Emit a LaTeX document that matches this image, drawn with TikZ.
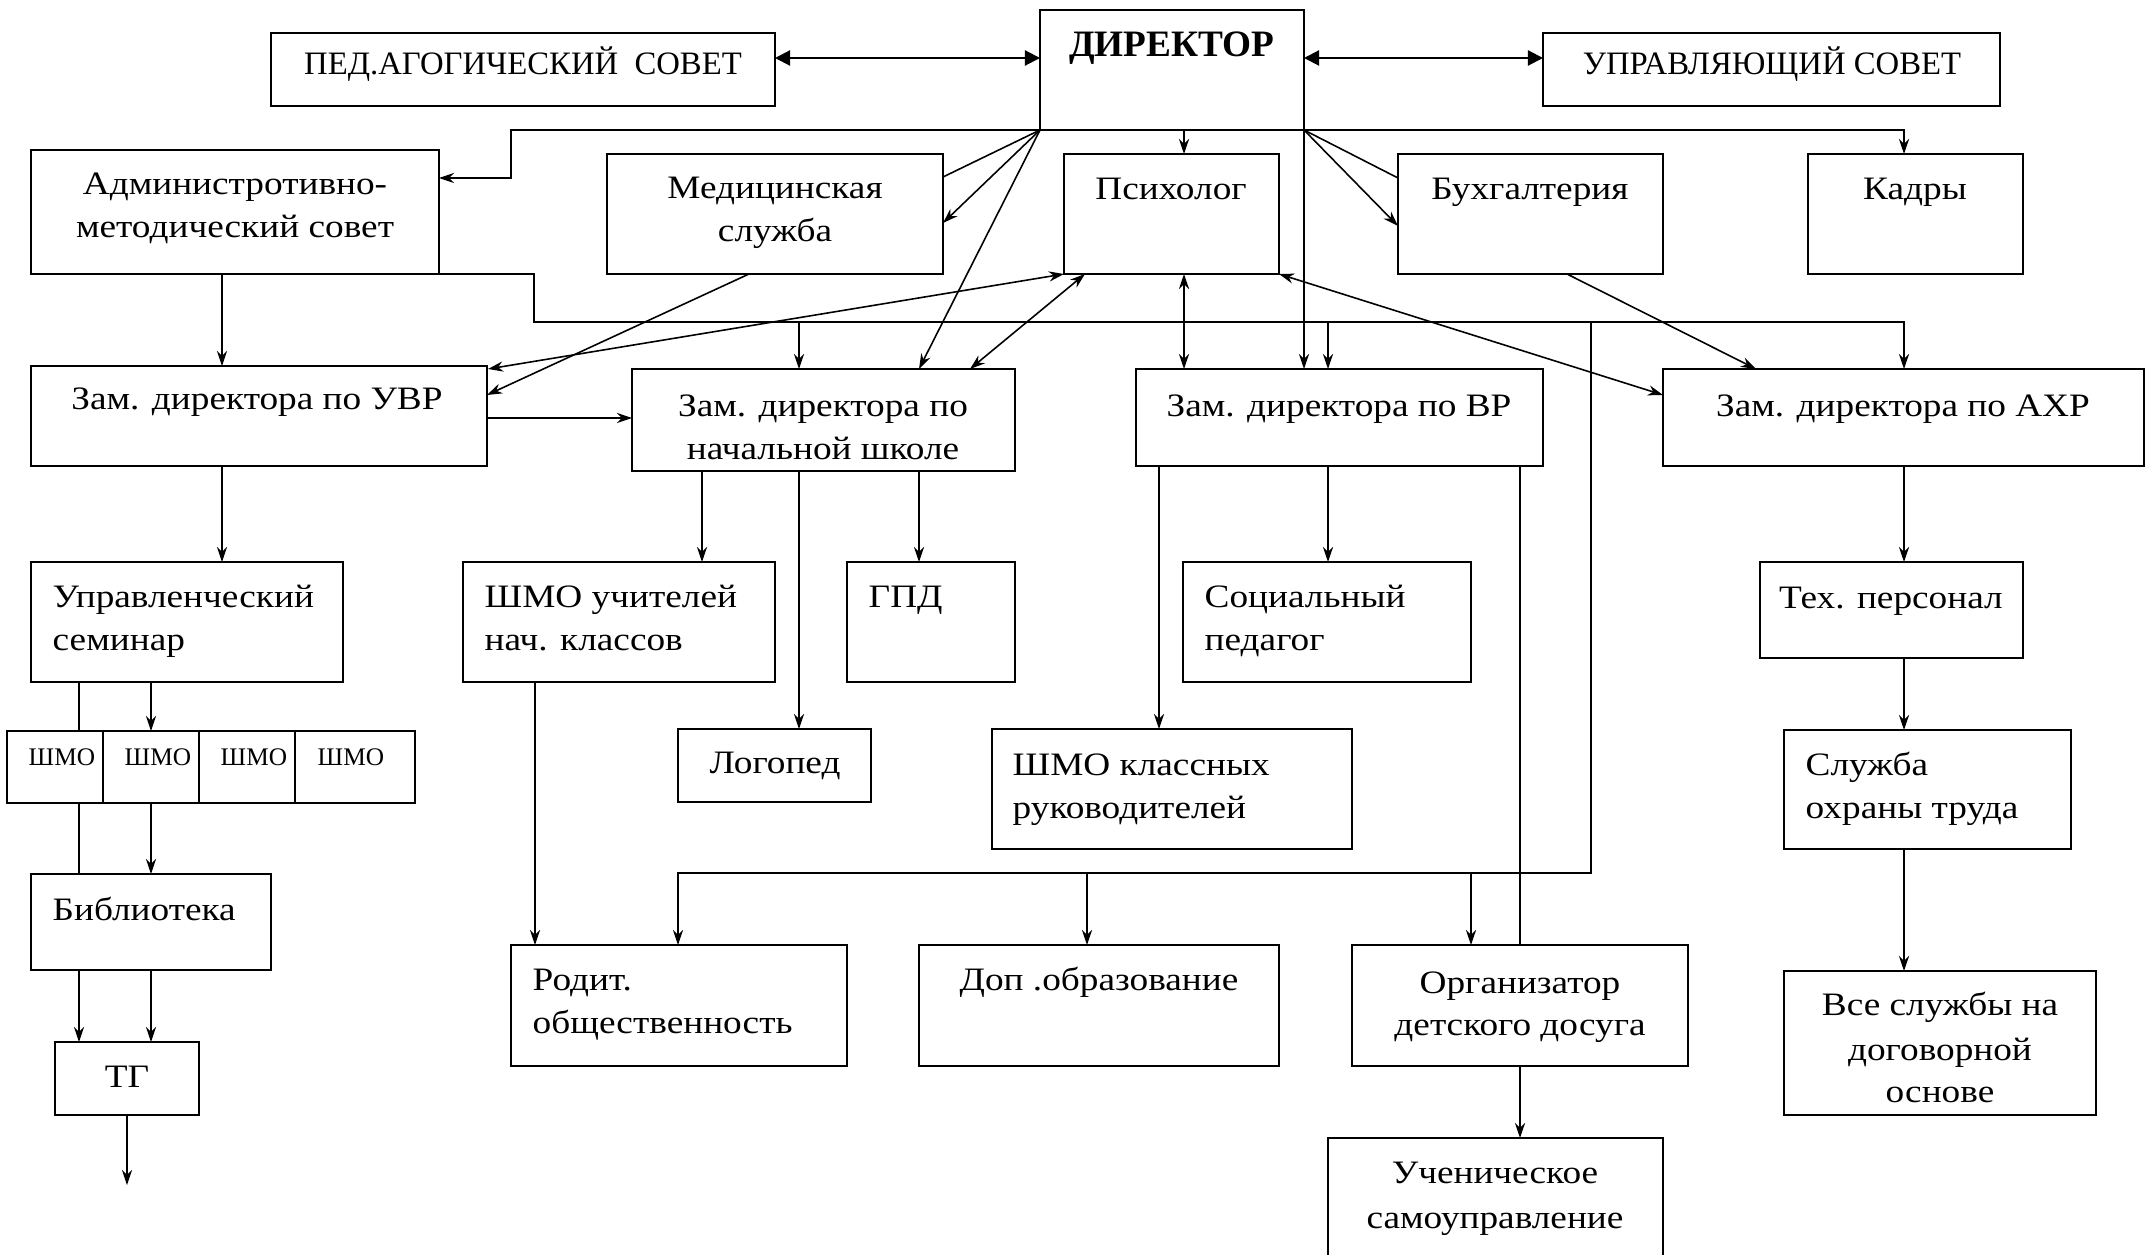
\documentclass[tikz,border=0pt]{standalone}
\usepackage{fontspec}
\setmainfont{Liberation Serif}[FakeStretch=1.14]
\newfontfamily\capsfont{Liberation Serif}
\usetikzlibrary{arrows.meta,calc}
\tikzset{
  box/.style={draw, line width=0.6pt, inner sep=0pt, outer sep=0pt},
  tx/.style={inner sep=0pt, anchor=base, font=\fontsize{9.3}{11}\selectfont},
  txc/.style={inner sep=0pt, anchor=base, font=\capsfont\fontsize{9.3}{11}\selectfont},
  txl/.style={tx, anchor=base west},
  txs/.style={inner sep=0pt, anchor=base west, font=\capsfont\fontsize{7.2}{9}\selectfont},
  ln/.style={line width=0.45pt},
  arr/.style={ln, -{Stealth[length=4.3pt, width=2.9pt, inset=1.4pt]}},
  darr/.style={ln, {Stealth[length=4.3pt, width=2.9pt, inset=1.4pt]}-{Stealth[length=4.3pt, width=2.9pt, inset=1.4pt]}},
  barr/.style={line width=0.6pt, {Triangle[length=4.3pt, width=4.3pt]}-{Triangle[length=4.3pt, width=4.3pt]}}
}
\newcommand\bx[5]{\node[box, minimum width={(#4-#2)*0.01cm}, minimum height={(#5-#3)*0.01cm}] (#1) at ({(#2+#4)/2},{(#3+#5)/2}) {};}
\newcommand\tc[4]{\node[tx] (#1) at (#2,#3) {#4};}
\newcommand\tl[4]{\node[txl] (#1) at (#2,#3) {#4};}
\begin{document}
\begin{tikzpicture}[x=0.01cm, y=-0.01cm]
\useasboundingbox (0,0) rectangle (2154,1255);
% boxes
\bx{ped}{271}{33}{775}{106}
\bx{dir}{1040}{10}{1304}{130}
\bx{upr}{1543}{33}{2000}{106}
\bx{adm}{31}{150}{439}{274}
\bx{med}{607}{154}{943}{274}
\bx{psy}{1064}{154}{1279}{274}
\bx{buh}{1398}{154}{1663}{274}
\bx{kad}{1808}{154}{2023}{274}
\bx{uvr}{31}{366}{487}{466}
\bx{nach}{632}{369}{1015}{471}
\bx{vr}{1136}{369}{1543}{466}
\bx{ahr}{1663}{369}{2144}{466}
\bx{sem}{31}{562}{343}{682}
\bx{shu}{463}{562}{775}{682}
\bx{gpd}{847}{562}{1015}{682}
\bx{soc}{1183}{562}{1471}{682}
\bx{teh}{1760}{562}{2023}{658}
\bx{log}{678}{729}{871}{802}
\bx{sm1}{7}{731}{103}{803}
\bx{sm2}{103}{731}{199}{803}
\bx{sm3}{199}{731}{295}{803}
\bx{sm4}{295}{731}{415}{803}
\bx{shk}{992}{729}{1352}{849}
\bx{sl}{1784}{730}{2071}{849}
\bx{bib}{31}{874}{271}{970}
\bx{tg}{55}{1042}{199}{1115}
\bx{rod}{511}{945}{847}{1066}
\bx{dop}{919}{945}{1279}{1066}
\bx{org}{1352}{945}{1688}{1066}
\bx{vse}{1784}{971}{2096}{1115}
\node[inner sep=0pt, outer sep=0pt, minimum width={335*0.01cm}, minimum height={126*0.01cm}] (uch) at (1495.5,1201) {};
\draw[line width=0.6pt] (uch.south west) -- (uch.north west) -- (uch.north east) -- (uch.south east);
% texts
\node[txc] (tped) at (523,75) {ПЕД.АГОГИЧЕСКИЙ\ \ СОВЕТ};
\node[inner sep=0pt, anchor=base, font=\capsfont\fontsize{10.6}{12}\selectfont\bfseries] (tdir) at (1172,57) {ДИРЕКТОР};
\node[txc] (tupr) at (1772,75) {УПРАВЛЯЮЩИЙ СОВЕТ};
\tc{tadm1}{235}{195}{Администротивно-}
\tc{tadm2}{235}{238}{методический совет}
\tc{tmed1}{775}{199}{Медицинская}
\tc{tmed2}{775}{242}{служба}
\tc{tpsy}{1171}{200}{Психолог}
\tc{tbuh}{1530}{200}{Бухгалтерия}
\tc{tkad}{1915}{200}{Кадры}
\tc{tuvr}{257}{410}{Зам. директора по УВР}
\tc{tnach1}{823}{417}{Зам. директора по}
\tc{tnach2}{823}{460}{начальной школе}
\tc{tvr}{1339}{417}{Зам. директора по ВР}
\tc{tahr}{1903}{417}{Зам. директора по АХР}
\tl{tsem1}{52}{607}{Управленческий}
\tl{tsem2}{52}{650}{семинар}
\tl{tshu1}{484}{607}{ШМО учителей}
\tl{tshu2}{484}{650}{нач. классов}
\tl{tgpd}{868}{607}{ГПД}
\tl{tsoc1}{1204}{607}{Социальный}
\tl{tsoc2}{1204}{650}{педагог}
\tc{tteh}{1891}{608}{Тех. персонал}
\tc{tlog}{775}{773}{Логопед}
\node[txs] (tsm1) at (28,765) {ШМО};
\node[txs] (tsm2) at (124,765) {ШМО};
\node[txs] (tsm3) at (220,765) {ШМО};
\node[txs] (tsm4) at (317,765) {ШМО};
\tl{tshk1}{1012}{775}{ШМО классных}
\tl{tshk2}{1012}{818}{руководителей}
\tl{tsl1}{1805}{775}{Служба}
\tl{tsl2}{1805}{818}{охраны труда}
\tl{tbib}{52}{920}{Библиотека}
\tc{ttg}{127}{1087}{ТГ}
\tl{trod1}{532}{990}{Родит.}
\tl{trod2}{532}{1033}{общественность}
\tc{tdop}{1099}{990}{Доп .образование}
\tc{torg1}{1520}{993}{Организатор}
\tc{torg2}{1520}{1035}{детского досуга}
\tc{tuch1}{1495}{1183}{Ученическое}
\tc{tuch2}{1495}{1228}{самоуправление}
\tc{tvse1}{1940}{1015}{Все службы на}
\tc{tvse2}{1940}{1060}{договорной}
\tc{tvse3}{1940}{1102}{основе}
% named junctions
\coordinate (dL) at (511,130);
\coordinate (dR) at (1904,130);
\coordinate (bA) at (534,274);
\coordinate (bB) at (534,322);
\coordinate (bC) at (1904,322);
\coordinate (bD) at (1591,322);
\coordinate (bE) at (1591,873);
\coordinate (bF) at (678,873);
\coordinate (tgend) at (127,1185);
% top connectors
\draw[barr] (ped.east |- 0,58) -- (dir.west |- 0,58);
\draw[barr] (dir.east |- 0,58) -- (upr.west |- 0,58);
\draw[arr] (dir.south west) -- (dL) -- (511,178) -- (adm.east |- 0,178);
\draw[arr] (dir.south east) -- (dR) -- (1904,0 |- kad.north);
\draw[arr] (1184,0 |- dir.south) -- (1184,0 |- psy.north);
\draw[ln] (dir.south west) -- (med.east |- 0,177);
\draw[arr] (dir.south west) -- (med.east |- 0,223);
\draw[arr] (dir.south west) -- (919,0 |- nach.north);
\draw[ln] (dir.south east) -- (buh.west |- 0,178);
\draw[arr] (dir.south east) -- (buh.west |- 0,226);
\draw[arr] (dir.south east) -- (1304,0 |- vr.north);
% admin bus
\draw[arr] (adm.south east) -- (bA) -- (bB) -- (bC) -- (1904,0 |- ahr.north);
\draw[arr] (799,322) -- (799,0 |- nach.north);
\draw[arr] (1328,322) -- (1328,0 |- vr.north);
\draw[arr] (bD) -- (bE) -- (bF) -- (678,0 |- rod.north);
\draw[arr] (1087,873) -- (1087,0 |- dop.north);
\draw[arr] (1471,873) -- (1471,0 |- org.north);
% middle
\draw[arr] (222,0 |- adm.south) -- (222,0 |- uvr.north);
\draw[arr] (749,0 |- med.south) -- (uvr.east |- 0,395);
\draw[darr] (psy.south west) -- ($(uvr.north east)+(1,3)$);
\draw[darr] (1085,0 |- psy.south) -- (970,0 |- nach.north);
\draw[arr] (uvr.east |- 0,418) -- (nach.west |- 0,418);
\draw[darr] (1184,0 |- psy.south) -- (1184,0 |- vr.north);
\draw[darr] (psy.south east) -- (ahr.west |- 0,395);
\draw[arr] (1567,0 |- buh.south) -- (1756,0 |- ahr.north);
% right column
\draw[arr] (1904,0 |- ahr.south) -- (1904,0 |- teh.north);
\draw[arr] (1904,0 |- teh.south) -- (1904,0 |- sl.north);
\draw[arr] (1904,0 |- sl.south) -- (1904,0 |- vse.north);
% VR children
\draw[arr] (1159,0 |- vr.south) -- (1159,0 |- shk.north);
\draw[arr] (1328,0 |- vr.south) -- (1328,0 |- soc.north);
\draw[ln] (1520,0 |- vr.south) -- (1520,0 |- org.north);
% nach children
\draw[arr] (702,0 |- nach.south) -- (702,0 |- shu.north);
\draw[arr] (799,0 |- nach.south) -- (799,0 |- log.north);
\draw[arr] (919,0 |- nach.south) -- (919,0 |- gpd.north);
\draw[arr] (535,0 |- shu.south) -- (535,0 |- rod.north);
% left column
\draw[arr] (222,0 |- uvr.south) -- (222,0 |- sem.north);
\draw[ln] (79,0 |- sem.south) -- (79,0 |- sm1.north);
\draw[arr] (151,0 |- sem.south) -- (151,0 |- sm2.north);
\draw[ln] (79,0 |- sm1.south) -- (79,0 |- bib.north);
\draw[arr] (151,0 |- sm2.south) -- (151,0 |- bib.north);
\draw[arr] (79,0 |- bib.south) -- (79,0 |- tg.north);
\draw[arr] (151,0 |- bib.south) -- (151,0 |- tg.north);
\draw[arr] (tg.south) -- (tgend);
% bottom
\draw[arr] (org.south) -- (1520,0 |- uch.north);
\end{tikzpicture}
\end{document}
